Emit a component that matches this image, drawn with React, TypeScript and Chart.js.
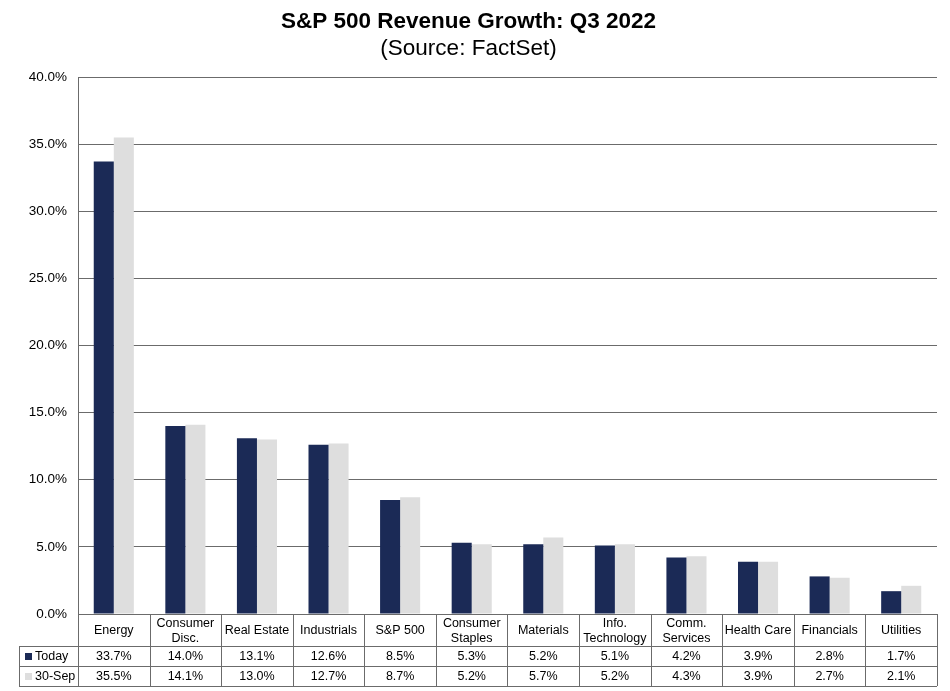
import React, { useEffect, useRef } from 'react';
import Chart from 'chart.js/auto';

// sectors, in chart order
const categories = [
  'Energy', 'Consumer\nDisc.', 'Real Estate', 'Industrials', 'S&P 500', 'Consumer\nStaples',
  'Materials', 'Info.\nTechnology', 'Comm.\nServices', 'Health Care', 'Financials', 'Utilities',
];
const todayValues = [33.7, 14.0, 13.1, 12.6, 8.5, 5.3, 5.2, 5.1, 4.2, 3.9, 2.8, 1.7];
const sep30Values = [35.5, 14.1, 13.0, 12.7, 8.7, 5.2, 5.7, 5.2, 4.3, 3.9, 2.7, 2.1];
const seriesNames = ['Today', '30-Sep'];
const yTicks = [0, 5, 10, 15, 20, 25, 30, 35, 40];

const NAVY = '#1b2a56';
const LIGHT = '#dedede';
const GRID = '#6b6b6b';
const FONT = 'Arial, "Liberation Sans", sans-serif';

// draws the data table under the x axis, using the x scale for column edges
const tablePlugin = {
  id: 'dataTable',
  afterDraw(chart: any) {
    const { ctx, chartArea, scales } = chart;
    const x = scales.x;
    const top = chartArea.bottom;
    const headerH = 32;
    const rowH = 20;
    const legendLeft = 19;
    const left = chartArea.left;
    const right = chartArea.right;
    const n = categories.length;
    const step = (right - left) / n;
    const edges = categories.map((_, i) => x.getPixelForValue(i) - step / 2);
    edges.push(right);
    const r1 = top + headerH;
    const r2 = r1 + rowH;
    const r3 = r2 + rowH;

    ctx.save();
    ctx.strokeStyle = GRID;
    ctx.lineWidth = 1;
    ctx.beginPath();
    // horizontal lines
    ctx.moveTo(left, top + 0.5); ctx.lineTo(right, top + 0.5);
    ctx.moveTo(legendLeft, r1 + 0.5); ctx.lineTo(right, r1 + 0.5);
    ctx.moveTo(legendLeft, r2 + 0.5); ctx.lineTo(right, r2 + 0.5);
    ctx.moveTo(legendLeft, r3 + 0.5); ctx.lineTo(right, r3 + 0.5);
    // vertical lines
    edges.forEach((e) => {
      const px = Math.round(e) + 0.5;
      ctx.moveTo(px, top); ctx.lineTo(px, r3);
    });
    ctx.moveTo(legendLeft + 0.5, r1); ctx.lineTo(legendLeft + 0.5, r3);
    ctx.stroke();

    ctx.fillStyle = '#000';
    ctx.font = `12.5px ${FONT}`;
    ctx.textAlign = 'center';
    ctx.textBaseline = 'middle';
    categories.forEach((c, i) => {
      const cx = x.getPixelForValue(i);
      const lines = c.split('\n');
      const mid = top + headerH / 2 + 1;
      lines.forEach((ln, j) => {
        ctx.fillText(ln, cx, mid + (j - (lines.length - 1) / 2) * 15);
      });
      ctx.fillText(todayValues[i].toFixed(1) + '%', cx, r1 + rowH / 2 + 1);
      ctx.fillText(sep30Values[i].toFixed(1) + '%', cx, r2 + rowH / 2 + 1);
    });

    // legend keys
    ctx.textAlign = 'left';
    [[NAVY, r1], [LIGHT, r2]].forEach(([col, ry]: any, k) => {
      ctx.fillStyle = col;
      ctx.fillRect(legendLeft + 6, ry + 7, 7, 7);
      ctx.fillStyle = '#000';
      ctx.fillText(seriesNames[k], legendLeft + 16, ry + rowH / 2 + 1);
    });
    ctx.restore();
  },
};

const App: React.FC = () => {
  const canvasRef = useRef<HTMLCanvasElement>(null);

  useEffect(() => {
    document.body.style.margin = '0';
    if (!canvasRef.current) return;
    const chart = new Chart(canvasRef.current, {
      type: 'bar',
      data: {
        labels: categories,
        datasets: [
          { label: seriesNames[0], data: todayValues, backgroundColor: NAVY, barPercentage: 1, categoryPercentage: 0.56 },
          { label: seriesNames[1], data: sep30Values, backgroundColor: LIGHT, barPercentage: 1, categoryPercentage: 0.56 },
        ],
      },
      options: {
        animation: false,
        responsive: true,
        maintainAspectRatio: false,
        layout: { padding: { left: 0, right: 13, bottom: 69, top: 0 } },
        plugins: {
          legend: { display: false },
          tooltip: { enabled: false },
          title: {
            display: true,
            text: 'S&P 500 Revenue Growth: Q3 2022',
            color: '#000',
            font: { family: FONT, size: 22.5, weight: 'bold' },
            padding: { top: 8, bottom: 0 },
          },
          subtitle: {
            display: true,
            text: '(Source: FactSet)',
            color: '#000',
            font: { family: FONT, size: 22.5 },
            padding: { top: 0, bottom: 15 },
          },
        },
        scales: {
          x: {
            offset: true,
            ticks: { display: false },
            grid: { display: false },
            border: { display: false },
          },
          y: {
            min: 0,
            max: 40,
            afterFit: (s: any) => { s.width = 78; },
            afterBuildTicks: (s: any) => { s.ticks = yTicks.map((v) => ({ value: v })); },
            ticks: {
              color: '#000',
              font: { family: FONT, size: 13.5 },
              padding: 11,
              callback: (v: any) => Number(v).toFixed(1) + '%',
            },
            grid: { color: GRID, drawTicks: true, tickLength: 0 },
            border: { color: GRID },
          },
        },
      },
      plugins: [tablePlugin],
    });
    return () => chart.destroy();
  }, []);

  return (
    <div style={{ width: 950, height: 691, position: 'relative', background: '#fff' }}>
      <canvas ref={canvasRef}></canvas>
    </div>
  );
};

export default App;
